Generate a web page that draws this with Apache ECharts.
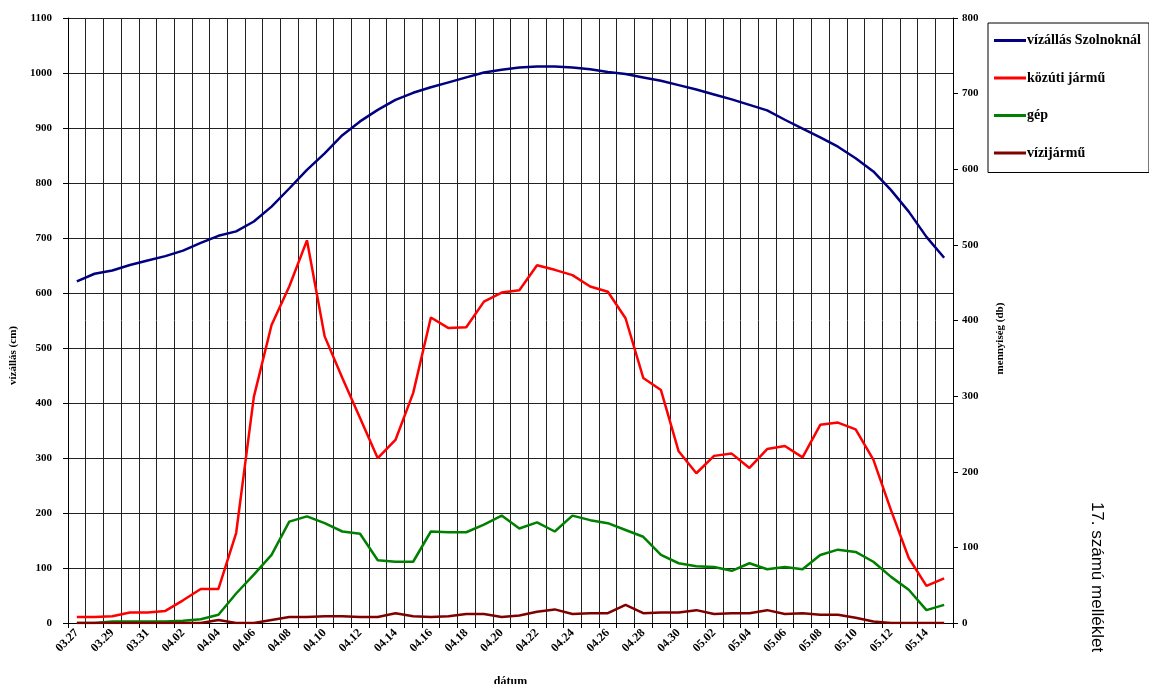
<!DOCTYPE html>
<html>
<head>
<meta charset="utf-8">
<script src="https://cdn.jsdelivr.net/npm/echarts@6/dist/echarts.min.js"></script>
<style>
  html, body { margin: 0; padding: 0; background: #fff; }
  #main { width: 1149px; height: 684px; }
</style>
</head>
<body>
<div id="main"></div>
<script>
// dates, one per day
var datumok = [
  "03.27", "03.28", "03.29", "03.30", "03.31",
  "04.01", "04.02", "04.03", "04.04", "04.05", "04.06", "04.07", "04.08", "04.09", "04.10",
  "04.11", "04.12", "04.13", "04.14", "04.15", "04.16", "04.17", "04.18", "04.19", "04.20",
  "04.21", "04.22", "04.23", "04.24", "04.25", "04.26", "04.27", "04.28", "04.29", "04.30",
  "05.01", "05.02", "05.03", "05.04", "05.05", "05.06", "05.07", "05.08", "05.09", "05.10",
  "05.11", "05.12", "05.13", "05.14", "05.15"
];

// vízállás Szolnoknál (cm) - left axis
var vizallas = [
  621, 635, 641, 651, 659, 667, 677, 691, 704, 712,
  730, 757, 790, 824, 854, 887, 912, 933, 951, 964,
  974, 983, 992, 1001, 1006, 1010, 1012, 1012, 1010, 1007,
  1002, 998, 992, 986, 978, 970, 961, 952, 942, 932,
  915, 899, 883, 866, 845, 821, 787, 748, 702, 664
];

// mennyiség (db) - right axis
var kozutiJarmu = [
  8, 8, 9, 14, 14, 16, 30, 45, 45, 119,
  299, 394, 445, 506, 379, 324, 271, 218, 242, 304,
  404, 390, 391, 425, 437, 440, 473, 467, 460, 445,
  438, 403, 324, 308, 227, 198, 221, 224, 205, 230,
  234, 219, 262, 265, 256, 216, 149, 86, 49, 59
];
var gep = [
  0, 0, 2, 2, 2, 2, 3, 5, 11, 39,
  64, 90, 134, 141, 132, 121, 118, 83, 81, 81,
  121, 120, 120, 130, 142, 125, 133, 121, 142, 136,
  132, 123, 114, 90, 79, 75, 74, 69, 79, 71,
  74, 71, 90, 97, 94, 81, 61, 44, 17, 24
];
var vizijarmu = [
  0, 0, 0, 0, 0, 0, 0, 0, 4, 0,
  0, 4, 8, 8, 9, 9, 8, 8, 13, 9,
  8, 9, 12, 12, 8, 10, 15, 18, 12, 13,
  13, 24, 13, 14, 14, 17, 12, 13, 13, 17,
  12, 13, 11, 11, 7, 2, 0, 0, 0, 0
];

var serif = "Liberation Serif";
var tickFont = { fontFamily: serif, fontWeight: "bold", fontSize: 11, color: "#000" };

var myChart = echarts.init(document.getElementById("main"));

function lineSeries(name, data, color, axisIndex) {
  return {
    name: name,
    type: "line",
    yAxisIndex: axisIndex,
    data: data,
    symbol: "none",
    showSymbol: false,
    smooth: false,
    animation: false,
    lineStyle: { color: color, width: 2.5 },
    itemStyle: { color: color }
  };
}

var option = {
  backgroundColor: "#fff",
  animation: false,
  grid: { left: 68, right: 196, top: 18, bottom: 61, containLabel: false, outerBoundsMode: "none" },
  legend: {
    orient: "vertical",
    left: 988,
    top: 23,
    padding: [10, 8, 12, 6],
    icon: "rect",
    itemWidth: 32,
    itemHeight: 3,
    itemGap: 22.5,
    borderColor: "#000",
    borderWidth: 1,
    textStyle: { fontFamily: serif, fontWeight: "bold", fontSize: 14, lineHeight: 15, color: "#000", padding: [0, 0, 0, -4] },
    data: ["vízállás Szolnoknál", "közúti jármű", "gép", "vízijármű"]
  },
  xAxis: {
    type: "category",
    data: datumok,
    boundaryGap: true,
    name: "dátum",
    nameLocation: "middle",
    nameGap: 53,
    nameTextStyle: { fontFamily: serif, fontWeight: "bold", fontSize: 12, color: "#000" },
    axisLine: { lineStyle: { color: "#000", width: 1 } },
    axisTick: { show: true, interval: 0, length: 5, lineStyle: { color: "#000" } },
    axisLabel: Object.assign({ interval: 1, rotate: 45, margin: 8 }, tickFont, { fontSize: 12 }),
    splitLine: { show: true, interval: 0, lineStyle: { color: "#222", width: 1 } }
  },
  yAxis: [
    {
      type: "value",
      min: 0,
      max: 1100,
      interval: 100,
      position: "left",
      name: "vízállás (cm)",
      nameLocation: "middle",
      nameGap: 46,
      nameTextStyle: { fontFamily: serif, fontWeight: "bold", fontSize: 11, color: "#000", padding: [0, 70, 0, 0] },
      axisLine: { show: true, lineStyle: { color: "#000", width: 1 } },
      axisTick: { show: true, length: 5, lineStyle: { color: "#000" } },
      axisLabel: Object.assign({ margin: 16, formatter: function (v) { return String(v); } }, tickFont),
      splitLine: { show: true, lineStyle: { color: "#222", width: 1 } }
    },
    {
      type: "value",
      min: 0,
      max: 800,
      interval: 100,
      position: "right",
      name: "mennyiség (db)",
      nameLocation: "middle",
      nameGap: 42,
      nameTextStyle: { fontFamily: serif, fontWeight: "bold", fontSize: 11, color: "#000", padding: [0, 36, 0, 0] },
      axisLine: { show: true, lineStyle: { color: "#000", width: 1 } },
      axisTick: { show: true, length: 5, lineStyle: { color: "#000" } },
      axisLabel: Object.assign({ margin: 9, formatter: function (v) { return String(v); } }, tickFont),
      splitLine: { show: false }
    }
  ],
  graphic: [
    {
      type: "text",
      x: 1097,
      y: 577,
      rotation: -Math.PI / 2,
      style: {
        text: "17. számú melléklet",
        font: "17px 'Liberation Sans'",
        fill: "#000",
        textAlign: "center",
        textVerticalAlign: "middle"
      }
    }
  ],
  series: [
    lineSeries("vízállás Szolnoknál", vizallas, "#000080", 0),
    lineSeries("közúti jármű", kozutiJarmu, "#ff0000", 1),
    lineSeries("gép", gep, "#008000", 1),
    lineSeries("vízijármű", vizijarmu, "#800000", 1)
  ]
};

myChart.setOption(option);
</script>
</body>
</html>
